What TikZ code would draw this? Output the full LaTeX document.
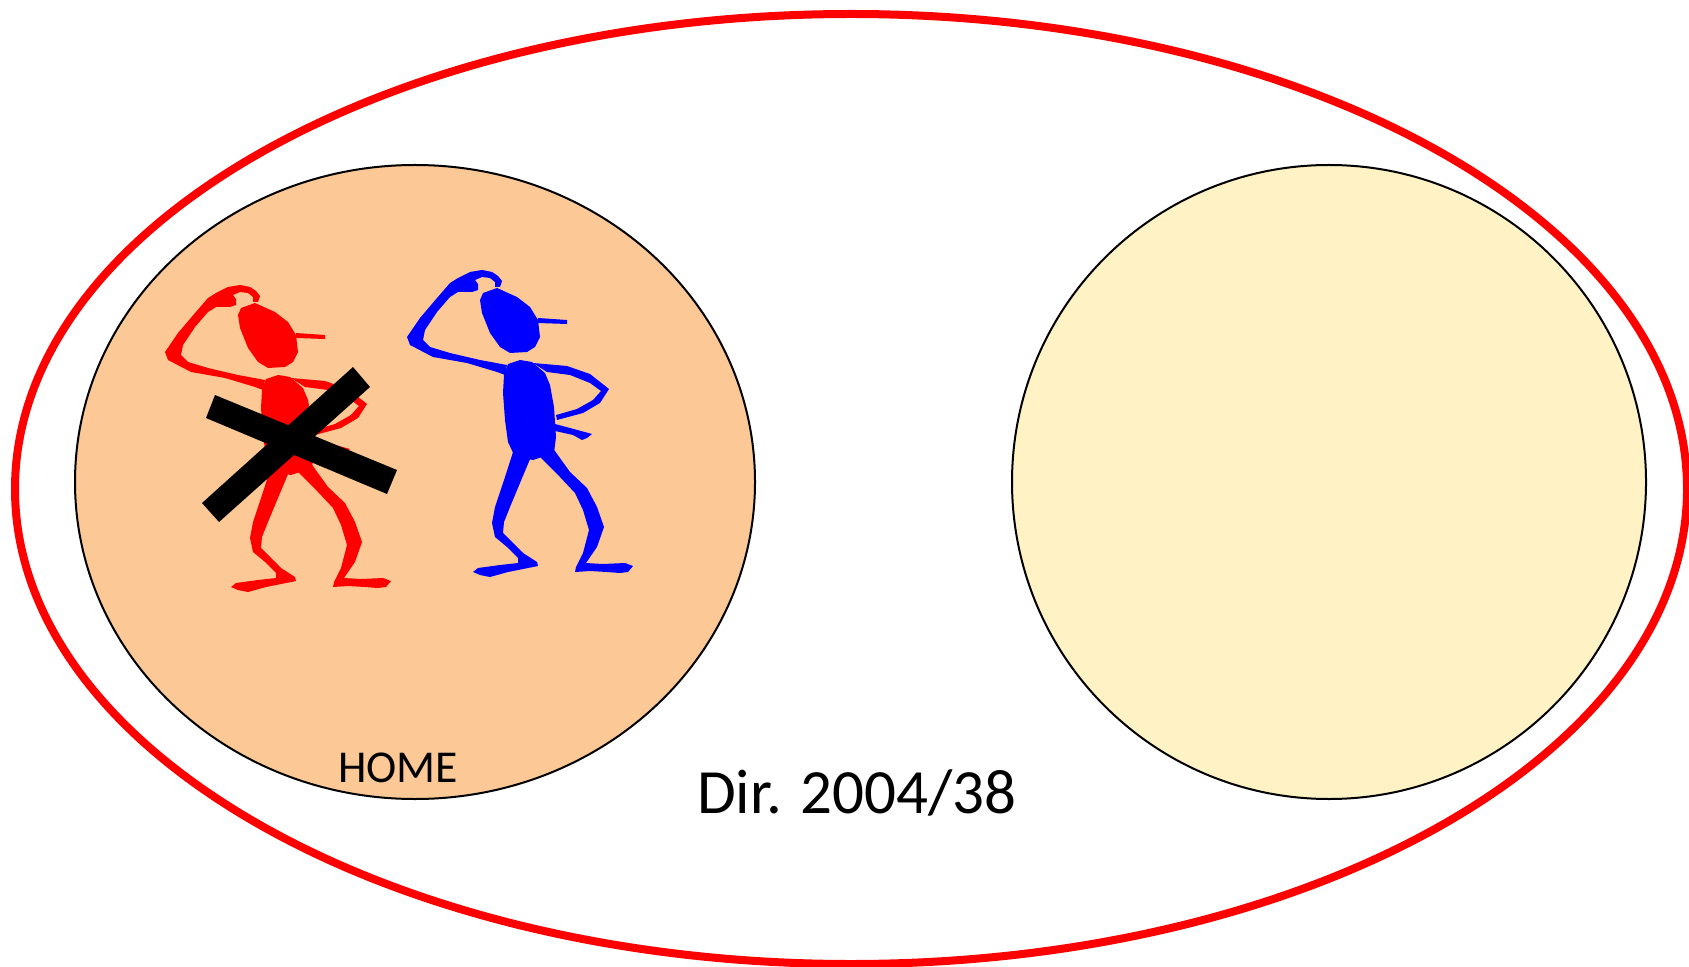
\documentclass[tikz,border=0pt]{standalone}
\usepackage{fontspec}
\setmainfont{Carlito}

\definecolor{homefill}{RGB}{252,201,150}
\definecolor{hostfill}{RGB}{255,242,196}

% the worker, drawn in pixel units
\newcommand{\worker}[1]{%
  % head and nose
  \fill[#1] (483,293) -- (497,288) -- (517,297) -- (530,307) -- (538,320)
    -- (540,337) -- (535,347) -- (527,352) -- (510,353) -- (500,347)
    -- (490,333) -- (482,313) -- (480,300) -- cycle;
  \fill[#1] (538,318) -- (567,320) -- (567,324) -- (538,323) -- cycle;
  % arm scratching the head
  \fill[#1] (407,337) -- (410,345) -- (433,357) -- (467,363) -- (497,372)
    -- (505,375) -- (507,365) -- (480,360) -- (450,353) -- (430,347)
    -- (423,340) -- (425,330) -- (437,312) -- (450,297) -- (458,292)
    -- (472,292) -- (478,290) -- (478,284) -- (475,280) -- (482,277)
    -- (490,278) -- (495,282) -- (495,287) -- (500,287) -- (502,281)
    -- (498,276) -- (492,272) -- (482,270) -- (470,272) -- (458,278)
    -- (450,283) -- (437,298) -- (420,318) -- cycle;
  % body
  \fill[#1] (508,364) -- (520,360) -- (532,362) -- (545,373) -- (550,385)
    -- (554,407) -- (556,437) -- (554,453) -- (533,460) -- (515,457)
    -- (508,442) -- (505,420) -- (503,393) -- (504,375) -- cycle;
  % hand on the hip
  \fill[#1] (533,363) -- (567,366) -- (590,374) -- (609,389) -- (600,403)
    -- (583,413) -- (557,420) -- (556,415) -- (577,409) -- (593,400)
    -- (601,391) -- (590,383) -- (570,375) -- (547,372) -- cycle;
  \fill[#1] (555,424) -- (570,428) -- (592,434) -- (587,438) -- (582,440)
    -- (573,435) -- (555,431) -- cycle;
  % legs
  \fill[#1] (514,449) -- (505,477) -- (495,507) -- (492,523) -- (495,537)
    -- (507,547) -- (518,558) -- (518,563) -- (500,565) -- (478,568)
    -- (473,572) -- (480,575) -- (490,577) -- (508,572) -- (538,566)
    -- (537,562) -- (523,553) -- (513,543) -- (503,533) -- (504,522)
    -- (510,507) -- (520,483) -- (533,452) -- cycle;
  \fill[#1] (552,447) -- (570,472) -- (587,488) -- (597,507) -- (604,527)
    -- (597,547) -- (586,563) -- (603,564) -- (625,563) -- (633,566)
    -- (628,572) -- (620,573) -- (607,572) -- (590,571) -- (575,572)
    -- (576,567) -- (583,553) -- (589,530) -- (583,510) -- (575,493)
    -- (560,477) -- (535,452) -- cycle;
}

\begin{document}
\begin{tikzpicture}[x=0.5pt, y=-0.5pt,
  ring/.style={draw=red, line width=4pt},
  state/.style={draw=black, line width=1pt},
  label/.style={text=black, anchor=base, inner sep=0pt}]

  \useasboundingbox (0,0) rectangle (1689,967);

  % the Union and the two member states
  \draw[ring] (851,489) ellipse [x radius=836, y radius=475];
  \draw[state, fill=homefill] (415,482) ellipse [x radius=340, y radius=317];
  \draw[state, fill=hostfill] (1329,482) ellipse [x radius=317, y radius=317];

  % the two workers, the red one crossed out
  \begin{scope}[shift={(-242,15)}]
    \worker{red}
  \end{scope}
  \worker{blue}
  \fill[black] (215,395) -- (206,418) -- (387,494) -- (397,470) -- cycle;
  \fill[black] (353,367) -- (370,387) -- (219,522) -- (202,503) -- cycle;

  \node[label, font=\fontsize{22.8}{27}\selectfont] (homelabel) at (398,782) {HOME};
  \node[label, font=\fontsize{31.5}{37}\selectfont] (dirlabel) at (857,813) {Dir. 2004/38};
\end{tikzpicture}
\end{document}
